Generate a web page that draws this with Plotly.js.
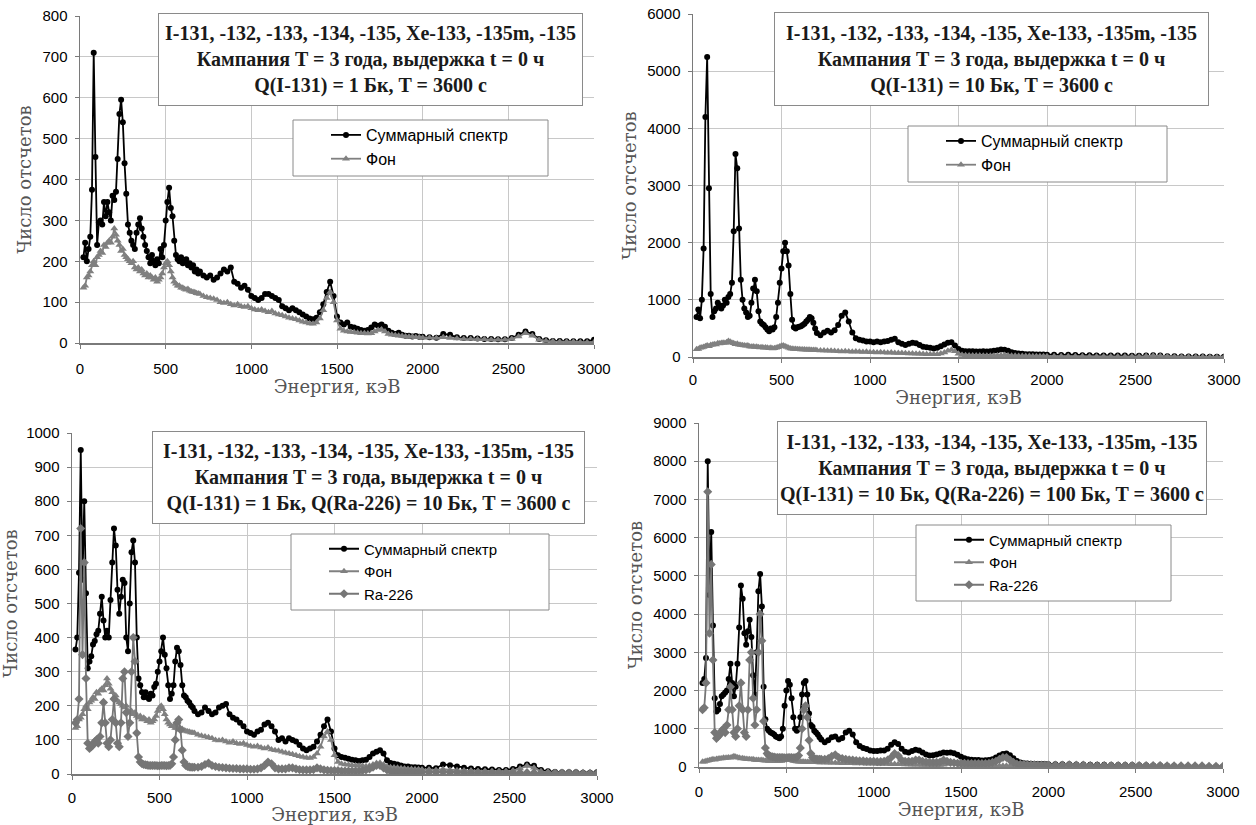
<!DOCTYPE html>
<html>
<head>
<meta charset="utf-8">
<script src="https://cdn.plot.ly/plotly-3.0.1.min.js"></script>
<style>html,body{margin:0;padding:0;background:#fff;}#chart{width:1256px;height:825px;}</style>
</head>
<body>
<div id="chart"></div>
<script>
// Energy grid (keV)
const energy = [
20,30,40,50,60,70,80,90,100,110,
120,130,140,150,160,170,180,190,200,210,
220,230,240,250,260,270,280,290,300,310,
320,330,340,350,360,370,380,390,400,410,
420,430,440,450,460,470,480,490,500,510,
520,530,540,550,560,570,580,590,600,610,
620,630,640,650,660,670,680,690,700,
720,740,760,780,800,820,840,860,880,900,
920,940,960,980,1000,1020,1040,1060,1080,1100,
1120,1140,1160,1180,1200,1220,1240,1260,1280,1300,
1320,1340,1360,1380,1400,1420,1440,1460,1480,1500,
1520,1540,1560,1580,1600,1620,1640,1660,1680,1700,
1720,1740,1760,1780,1800,1820,1840,1860,1880,1900,
1920,1940,1960,1980,2000,
2040,2080,2120,2160,2200,2240,2280,2320,2360,2400,
2440,2480,2520,2560,2600,2640,2680,2720,2760,2800,
2840,2880,2920,2960,3000];

// Background (Фон), same in all panels
const fon = [
135,140,160,165,175,190,200,190,210,215,
225,220,240,235,245,250,245,260,280,265,
250,240,225,230,215,210,205,200,195,200,
185,180,185,175,180,170,165,170,160,165,
160,155,160,150,155,160,170,185,195,200,
190,175,160,150,145,140,140,135,135,132,
130,132,128,126,125,124,122,121,120,
115,112,110,108,105,100,98,100,95,92,
95,90,88,90,85,82,80,82,78,75,
78,72,70,68,65,62,60,58,55,52,
50,48,47,50,60,80,110,125,100,55,
35,30,28,27,26,25,24,24,23,24,
28,32,33,28,22,20,19,18,17,16,
15,15,14,14,13,
13,12,14,12,11,10,10,9,9,8,
8,8,10,16,24,18,8,5,4,3,
3,3,2,2,2];

// Panel 1: sum spectrum, Q(I-131) = 1 Bq
const sum1 = [
210,245,200,230,260,375,710,455,240,295,
300,290,345,310,345,320,300,360,350,370,
450,560,595,540,440,365,290,270,250,240,
230,270,290,305,280,260,240,225,210,195,
215,200,190,205,195,230,210,240,300,345,
380,330,310,250,215,205,200,210,195,200,
205,190,195,185,190,175,180,170,175,
165,160,165,155,160,170,180,175,185,150,
145,135,140,130,115,110,105,110,120,120,
115,110,105,90,85,80,85,80,75,70,
65,60,58,62,75,95,125,150,115,65,
50,45,50,40,38,35,32,30,32,38,
45,42,45,40,30,25,22,25,20,18,
18,16,17,15,15,
14,13,22,20,14,12,12,11,10,10,
9,9,12,20,28,22,10,7,5,5,
4,4,4,4,8];

// Panel 2: sum spectrum, Q(I-131) = 10 Bq
const sum2 = [
700,830,680,1000,1900,4200,5250,2950,1100,700,
800,850,950,900,850,900,1000,950,1050,1100,
1300,2200,3550,3300,2250,1350,1000,850,780,700,
720,950,1200,1350,1150,800,620,580,560,520,
480,450,500,480,520,700,950,1300,1550,1850,
2000,1850,1600,1100,650,520,500,520,530,540,
560,580,620,650,700,680,600,500,420,
380,430,460,430,470,560,720,780,620,430,
330,300,290,270,270,260,270,260,270,280,
300,320,260,230,210,230,250,240,210,180,
170,160,150,160,190,220,250,260,200,140,
110,100,100,100,95,95,100,95,100,110,
120,130,125,110,85,70,60,55,50,50,
48,45,45,42,40,
38,36,40,35,32,30,28,27,26,25,
25,24,24,25,30,25,15,12,10,9,
8,7,6,5,5];

// Panel 3: Ra-226 (10 Bq) and sum spectrum
const ra3 = [
150,160,220,720,350,620,280,90,75,80,
85,95,100,90,110,150,210,150,90,80,
100,160,220,150,90,80,150,280,300,180,
110,150,300,400,330,120,50,35,30,28,
27,26,25,25,25,25,25,24,24,25,
25,25,24,25,25,30,50,100,150,160,
130,70,35,25,22,21,20,20,20,
20,22,28,32,25,22,20,19,18,17,
16,16,15,15,15,14,14,15,18,25,
35,30,18,15,15,15,18,18,15,13,
12,12,12,13,18,15,12,11,10,10,
10,9,9,9,9,9,9,10,12,15,
20,25,25,18,12,8,7,7,6,6,
6,5,5,5,5,
5,5,6,5,5,4,4,4,4,4,
4,4,4,4,4,4,3,3,3,3,
3,3,2,2,2];

const sum3 = [
365,400,590,950,570,800,530,310,330,345,
380,390,410,420,470,520,450,400,420,400,
510,620,720,670,540,470,520,570,560,400,
360,500,650,685,620,400,280,260,240,225,
240,225,220,235,230,255,265,300,330,360,
400,350,310,260,220,235,260,330,370,360,
320,260,230,225,215,210,200,195,185,
175,180,195,185,175,180,195,200,205,175,
165,160,150,140,125,120,115,125,130,145,
150,140,125,100,105,95,105,100,95,85,
75,70,75,80,95,115,140,160,125,75,
55,50,48,45,42,40,38,40,42,50,
60,65,70,60,40,32,30,28,25,22,
22,20,20,19,18,
18,17,28,26,22,18,16,15,14,13,
12,12,15,22,28,24,12,8,6,5,
5,5,4,4,5];

// Panel 4: Ra-226 (100 Bq) and sum spectrum
const ra4 = [
1500,1550,2200,7200,3500,5300,2800,900,750,800,
850,950,1000,900,1100,1500,2100,1500,900,800,
1000,1600,2200,1500,900,800,1500,2800,3000,1800,
1100,1500,3000,4000,3300,1200,500,350,300,280,
270,260,250,250,250,250,250,240,240,250,
250,250,240,250,250,300,500,1000,1500,1600,
1300,700,350,250,220,210,200,200,200,
200,220,280,320,250,220,200,190,180,170,
160,160,150,150,150,140,140,150,180,250,
350,300,180,150,150,150,180,180,150,130,
120,120,120,130,180,150,120,110,100,100,
100,90,90,90,90,90,90,100,120,150,
200,250,250,180,120,80,70,70,60,60,
60,50,50,50,50,
50,50,60,50,50,40,40,40,40,40,
40,40,40,40,40,40,30,30,30,30,
30,30,20,20,20];

const sum4 = [
2200,2300,2850,8000,4500,6150,3700,1800,1450,1500,
1650,1850,1900,1950,2000,2300,2700,2200,1850,2100,
2700,3650,4750,4400,3500,3200,3550,3850,3400,2400,
1900,3000,4600,5050,4200,2100,1250,1000,950,900,
880,850,800,780,750,800,1000,1600,2000,2250,
2150,1800,1300,1000,950,1000,1300,1900,2200,2250,
1900,1400,1100,1050,950,900,850,780,720,
650,700,780,800,720,760,900,950,850,650,
550,500,470,430,420,420,430,430,480,580,
650,600,480,400,380,420,450,430,380,330,
300,310,330,350,380,370,380,360,320,270,
230,200,190,180,180,170,175,180,200,250,
300,340,350,310,230,160,120,100,90,85,
80,80,78,76,75,
70,70,75,68,65,62,60,58,55,52,
50,50,48,45,40,38,30,25,20,15,
12,10,8,6,5];

const yRanges = [[0,800],[0,6000],[0,1000],[0,9000]];
const yTicks = [100,1000,100,1000];
const names = ['Суммарный спектр','Фон','Ra-226'];
const headLines = [
  'I-131, -132, -133, -134, -135, Xe-133, -135m, -135',
  'Кампания T = 3 года, выдержка t = 0 ч'
];
const qLines = [
  'Q(I-131) = 1 Бк, T = 3600 с',
  'Q(I-131) = 10 Бк, T = 3600 с',
  'Q(I-131) = 1 Бк, Q(Ra-226) = 10 Бк, T = 3600 с',
  'Q(I-131) = 10 Бк, Q(Ra-226) = 100 Бк, T = 3600 с'
];
const xTitle = 'Энергия, кэВ';
const yTitle = 'Число отсчетов';

// ---- layout geometry (pixels) ----
const W = 1256, H = 825;
const fx = p => p / W, fy = p => 1 - p / H;
const panels = [
  {l:80, r:594, t:16, b:343, box:[158,13,583,106], frame:[293,120,548,176], legTop:118, legFont:16, xs:7},
  {l:693, r:1224, t:14, b:357, box:[774,12,1209,106], frame:[908,126,1167,182], legTop:124, legFont:16, xs:4},
  {l:72, r:597, t:433, b:774, box:[152,431,585,524], frame:[291,534,549,610], legTop:532.5, legFont:15, xs:5},
  {l:699, r:1223, t:423, b:767, box:[777,421,1207,515], frame:[916,525,1171,601], legTop:523.5, legFont:15, xs:6}
];

const SUMC = '#000000', FONC = '#808080', RAC = '#767676';
const ax = k => k ? String(k+1) : '';
function sumTrace(y, k){ return {x:energy, y:y, name:names[0], type:'scatter', mode:'lines+markers',
  line:{color:SUMC, width:1.8}, marker:{symbol:'circle', size:6, color:SUMC},
  xaxis:'x'+ax(k), yaxis:'y'+ax(k), legend:'legend'+ax(k)}; }
function fonTrace(k){ return {x:energy, y:fon, name:names[1], type:'scatter', mode:'lines+markers',
  line:{color:FONC, width:1.8}, marker:{symbol:'triangle-up', size:7, color:FONC},
  xaxis:'x'+ax(k), yaxis:'y'+ax(k), legend:'legend'+ax(k)}; }
function raTrace(y, k){ return {x:energy, y:y, name:names[2], type:'scatter', mode:'lines+markers',
  line:{color:RAC, width:1.8}, marker:{symbol:'diamond', size:7, color:RAC},
  xaxis:'x'+ax(k), yaxis:'y'+ax(k), legend:'legend'+ax(k)}; }

const data = [
  sumTrace(sum1,0), fonTrace(0),
  sumTrace(sum2,1), fonTrace(1),
  sumTrace(sum3,2), fonTrace(2), raTrace(ra3,2),
  sumTrace(sum4,3), fonTrace(3), raTrace(ra4,3)
];

const tickFont = {family:'Liberation Sans, Arial, sans-serif', size:15, color:'#000'};
const titleFont = {family:'DejaVu Serif, serif', size:18, color:'#555'};

const layout = {
  width:W, height:H, margin:{l:0,r:0,t:0,b:0}, paper_bgcolor:'#fff', plot_bgcolor:'#fff',
  showlegend:true, annotations:[], shapes:[]
};

panels.forEach((p,k)=>{
  const sx = ax(k);
  layout['xaxis'+sx] = {
    domain:[fx(p.l), fx(p.r)], anchor:'y'+sx, range:[0,3000], dtick:500, tick0:0,
    showgrid:true, gridcolor:'#c8c8c8', gridwidth:1, zeroline:false,
    showline:true, linecolor:'#7a7a7a', linewidth:1.5,
    ticks:'outside', ticklen:4, tickcolor:'#7a7a7a', tickfont:tickFont, ticklabelstandoff:p.xs,
    title:{text:xTitle, font:titleFont, standoff:0}, automargin:false, fixedrange:true
  };
  layout['yaxis'+sx] = {
    domain:[fy(p.b), fy(p.t)], anchor:'x'+sx, range:yRanges[k], dtick:yTicks[k], tick0:0,
    showgrid:true, gridcolor:'#c8c8c8', gridwidth:1, zeroline:false,
    showline:true, linecolor:'#7a7a7a', linewidth:1.5,
    ticks:'outside', ticklen:4, tickcolor:'#7a7a7a', tickfont:tickFont, ticklabelstandoff:4,
    title:{text:yTitle, font:titleFont, standoff:6}, automargin:false, fixedrange:true
  };
  const f = p.frame;
  // legend frame (white box with grey border, as in the original)
  layout.shapes.push({type:'rect', xref:'paper', yref:'paper', layer:'above',
    x0:fx(f[0]), x1:fx(f[2]), y0:fy(f[3]), y1:fy(f[1]),
    fillcolor:'#fff', line:{color:'#8a8a8a', width:1}});
  layout['legend'+sx] = {
    x:fx(f[0]+33), y:fy(p.legTop), xanchor:'left', yanchor:'top', xref:'paper', yref:'paper',
    bgcolor:'rgba(0,0,0,0)', borderwidth:0,
    font:{family:'Liberation Sans, Arial, sans-serif', size:p.legFont, color:'#000'},
    itemwidth:30, tracegroupgap:0
  };
  const b = p.box;
  layout.annotations.push({
    xref:'paper', yref:'paper', x:fx((b[0]+b[2])/2), y:fy((b[1]+b[3])/2),
    xanchor:'center', yanchor:'middle', width:b[2]-b[0]-2, height:b[3]-b[1]-2,
    text: headLines[0]+'<br>'+headLines[1]+'<br>'+qLines[k], showarrow:false, align:'center', valign:'middle',
    font:{family:'Liberation Serif, Times New Roman, serif', size:20, color:'#1a1a1a', weight:'bold'},
    bgcolor:'#fff', bordercolor:'#8a8a8a', borderwidth:1, borderpad:0
  });
});

Plotly.newPlot('chart', data, layout, {displayModeBar:false, staticPlot:true});
</script>
</body>
</html>
